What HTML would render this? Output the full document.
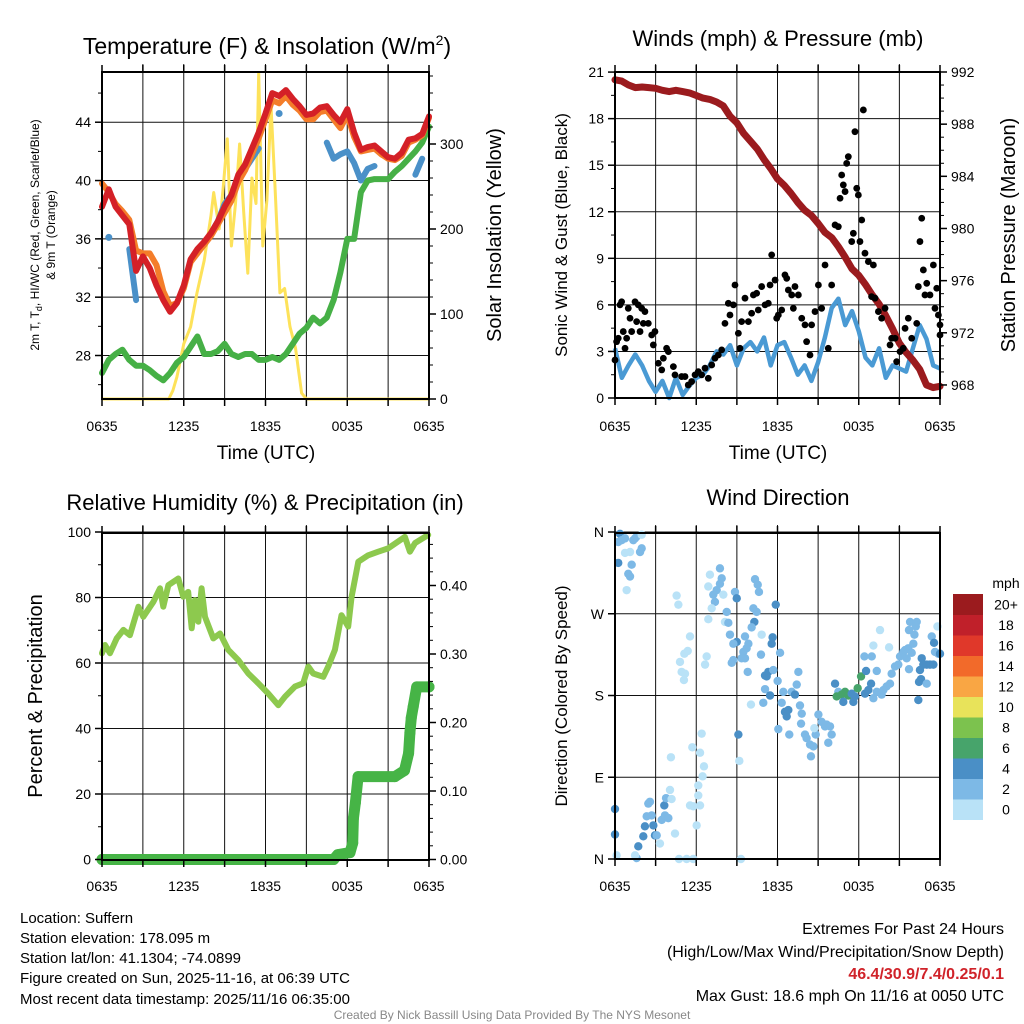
<!DOCTYPE html>
<html><head><meta charset="utf-8">
<style>
html,body{margin:0;padding:0;background:#fff;}
svg{display:block;font-family:"Liberation Sans",Arial,sans-serif;}
</style></head>
<body>
<svg id="fig" width="1024" height="1024" viewBox="0 0 1024 1024" xmlns="http://www.w3.org/2000/svg">
<rect width="1024" height="1024" fill="#fff"/>
<g id="layer"></g>
<text x="267" y="54" font-size="23" text-anchor="middle">Temperature (F) &amp; Insolation (W/m<tspan font-size="14" dy="-9">2</tspan><tspan dy="9">)</tspan></text>
<text x="778" y="46" font-size="22" text-anchor="middle">Winds (mph) &amp; Pressure (mb)</text>
<text x="265" y="510" font-size="22" text-anchor="middle">Relative Humidity (%) &amp; Precipitation (in)</text>
<text x="778" y="505" font-size="22" text-anchor="middle">Wind Direction</text>
<text transform="translate(39,235) rotate(-90)" font-size="12" text-anchor="middle">2m T, T<tspan font-size="9" dy="3">d</tspan><tspan dy="-3">, HI/WC (Red, Green, Scarlet/Blue)</tspan></text>
<text transform="translate(55,235) rotate(-90)" font-size="12" text-anchor="middle">&amp; 9m T (Orange)</text>
<text transform="translate(501,235) rotate(-90)" font-size="20" text-anchor="middle">Solar Insolation (Yellow)</text>
<text transform="translate(567,235) rotate(-90)" font-size="17" text-anchor="middle">Sonic Wind &amp; Gust (Blue, Black)</text>
<text transform="translate(1015,235) rotate(-90)" font-size="20" text-anchor="middle">Station Pressure (Maroon)</text>
<text transform="translate(42,696) rotate(-90)" font-size="20" text-anchor="middle">Percent &amp; Precipitation</text>
<text transform="translate(567,696) rotate(-90)" font-size="17" text-anchor="middle">Direction (Colored By Speed)</text>
<text x="266" y="459" font-size="19" text-anchor="middle">Time (UTC)</text>
<text x="778" y="459" font-size="19" text-anchor="middle">Time (UTC)</text>
<g font-size="15">
<text x="20" y="923">Location: Suffern</text>
<text x="20" y="943">Station elevation: 178.095 m</text>
<text x="20" y="963">Station lat/lon: 41.1304; -74.0899</text>
<text x="20" y="983">Figure created on Sun, 2025-11-16, at 06:39 UTC</text>
<text x="20" y="1004">Most recent data timestamp: 2025/11/16 06:35:00</text>
</g>
<g font-size="16" text-anchor="end">
<text x="1004" y="934">Extremes For Past 24 Hours</text>
<text x="1004" y="957">(High/Low/Max Wind/Precipitation/Snow Depth)</text>
<text x="1004" y="979" fill="#d0232a" font-weight="bold">46.4/30.9/7.4/0.25/0.1</text>
<text x="1004" y="1001">Max Gust: 18.6 mph On 11/16 at 0050 UTC</text>
</g>
<text x="512" y="1019" font-size="12" fill="#888" text-anchor="middle">Created By Nick Bassill Using Data Provided By The NYS Mesonet</text>
<text x="1006" y="588" font-size="14" text-anchor="middle">mph</text>
</svg>
<script>
// ---------- DATA ----------
const halfHours = [0,0.5,1,1.5,2,2.5,3,3.5,4,4.5,5,5.5,6,6.5,7,7.5,8,8.5,9,9.5,10,10.5,11,11.5,12,12.5,13,13.5,14,14.5,15,15.5,16,16.5,17,17.5,18,18.5,19,19.5,20,20.5,21,21.5,22,22.5,23,23.5,24];
const xTickLabels = ["0635","1235","1835","0035","0635"];
const temp2m = [38.2,39.4,38.2,37.6,37.0,33.8,34.8,34.0,32.8,31.8,31.0,31.6,32.8,34.6,35.3,35.8,36.4,37.2,38.2,39.0,40.4,41.1,42.2,43.3,44.6,46.0,45.8,46.2,45.6,45.1,44.5,44.6,45.0,45.1,44.5,44.0,44.9,43.3,42.1,42.3,42.4,42.0,41.6,41.5,41.9,42.8,42.9,43.2,44.4];
const temp9m = [39.8,39.2,38.4,37.9,37.3,35.2,35.0,35.0,34.2,32.4,31.4,31.6,32.6,34.4,35.0,35.6,36.2,37.0,37.8,38.6,39.9,40.7,41.8,42.9,44.2,45.5,45.3,45.8,45.2,44.8,44.2,44.2,44.7,44.8,44.2,43.6,44.5,43.0,42.0,42.1,42.2,41.8,41.5,41.4,41.7,42.6,42.8,43.1,44.3];
const heatIndexWindChill = [null,36.1,null,null,35.3,31.8,null,null,null,null,null,null,null,null,35.2,35.6,36.4,37.2,38.4,39.0,40.2,40.8,41.5,42.2,null,null,44.6,null,null,null,null,null,null,42.6,41.5,41.8,42.0,41.2,40.0,40.8,41.0,null,null,null,null,null,40.4,41.5,null];
const dewPoint = [26.8,27.7,28.1,28.4,27.7,27.3,27.3,27.0,26.6,26.3,26.8,27.5,27.9,28.6,29.3,28.1,28.1,28.3,28.8,28.1,27.9,28.1,28.1,27.7,27.7,27.9,27.7,28.1,28.8,29.5,29.9,30.6,30.2,30.6,31.8,33.7,36.0,36.0,39.2,40.0,40.1,40.1,40.1,40.6,41.0,41.5,42.0,42.6,43.7];
const insolHours = [0,4.9,5.2,5.5,6.0,6.5,6.97,7.5,8.0,8.2,8.6,8.9,9.2,9.5,9.8,10.1,10.4,10.7,11.0,11.3,11.5,11.8,12.1,12.4,12.7,13.06,13.4,13.8,14.2,14.65,15.0,24];
const insolation = [0,0,10,26,65,85,125,163,216,243,200,250,306,180,230,300,220,148,260,230,383,180,234,345,250,125,130,85,60,7,0,0];
const tempTicks = [28,32,36,40,44];
const insolTicks = [0,100,200,300];

const windSpeed = [3.2,1.3,2.1,2.8,2.1,1.1,0.4,1.1,0.0,1.3,0.2,0.8,1.3,1.5,2.1,3.0,2.8,3.4,2.1,3.2,3.6,3.0,3.9,2.1,3.4,3.6,2.6,1.5,2.1,1.1,2.3,3.9,5.8,6.4,4.7,5.6,4.3,2.6,2.1,3.2,1.3,2.1,1.9,1.7,3.2,4.7,3.8,2.1,1.9];
const pressure = [991.4,991.3,991.0,990.8,990.85,990.8,990.75,990.6,990.5,990.6,990.5,990.4,990.2,990.0,989.9,989.7,989.4,988.6,988.1,987.3,986.7,986.1,985.3,984.6,983.8,983.3,982.7,982.0,981.4,981.0,980.4,979.7,979.3,978.6,977.8,976.9,976.4,975.7,974.9,974.2,973.3,972.3,971.2,970.5,969.9,969.2,968.0,967.8,967.9];
const gustHours = [0.0,0.12,0.24,0.37,0.49,0.61,0.74,0.86,0.98,1.11,1.23,1.48,1.6,1.72,1.85,1.97,2.09,2.21,2.46,2.71,2.83,2.95,3.2,3.45,3.57,3.81,3.94,4.31,4.43,4.92,5.17,5.41,5.66,5.91,6.15,6.4,6.65,6.89,7.14,7.38,7.63,7.88,8.12,8.37,8.49,8.74,8.86,9.11,9.23,9.35,9.6,9.85,10.09,10.22,10.46,10.58,10.83,11.08,11.32,11.45,11.57,11.82,11.94,12.06,12.31,12.55,12.68,12.8,13.05,13.29,13.54,13.17,13.79,14.03,14.15,14.4,14.52,14.77,15.02,15.26,15.51,15.75,16.0,16.25,16.49,16.62,16.74,16.86,16.99,17.11,17.23,17.48,17.6,17.72,17.85,17.97,18.09,18.22,18.34,18.46,18.71,18.95,19.08,19.2,19.45,19.69,19.94,20.31,20.43,20.68,20.8,21.05,21.29,21.42,21.66,21.91,22.28,22.4,22.52,22.65,22.77,22.89,23.02,23.26,23.51,23.76,23.63,23.88,24.0,24.0];
const gustSpeed = [2.45,3.63,3.85,6.0,6.2,4.28,3.2,3.85,5.78,5.14,4.28,6.2,4.92,6.0,4.28,5.78,4.81,5.57,4.81,4.06,3.42,4.28,2.24,1.81,2.56,3.2,2.99,2.02,1.49,1.38,1.38,0.84,1.06,1.49,1.7,1.49,1.92,1.27,2.13,2.56,2.77,3.1,4.81,6.1,5.35,6.0,7.28,4.17,3.2,4.92,6.43,4.92,5.46,6.64,6.75,5.67,7.18,6.0,6.1,7.28,9.22,7.6,5.14,5.35,5.67,7.93,7.71,6.96,6.64,7.18,6.64,5.78,5.14,4.71,3.63,2.77,4.71,5.57,7.28,5.78,8.57,3.2,7.28,11.15,11.04,12.87,14.37,13.73,13.3,15.12,15.55,10.08,10.61,17.16,13.51,13.08,10.08,11.47,18.56,9.33,8.79,6.53,8.57,6.43,5.57,5.14,5.78,3.42,3.85,3.85,2.34,2.99,3.2,4.49,5.14,3.85,4.81,7.18,10.08,11.58,8.25,6.64,7.39,6.64,8.57,7.07,5.78,5.35,4.71,4.06];
const windTicks = [0,3,6,9,12,15,18,21];
const pressureTicks = [968,972,976,980,984,988,992];

const rhHours = [0,0.22,0.59,1.08,1.57,2.05,2.67,3.03,3.77,4.26,4.5,4.87,5.6,5.97,6.33,6.58,6.82,7.07,7.31,7.56,8.17,8.66,9.27,10.0,10.74,11.47,12.2,12.94,13.43,14.16,14.77,15.14,15.5,16.24,16.6,17.09,17.58,18.07,18.32,18.81,19.54,20.27,21.0,22.23,22.6,22.97,23.94];
const relHumidity = [63.0,65.5,63.0,67.5,70.1,68.5,77.2,74.1,78.7,82.8,77.2,83.8,85.8,80.2,81.7,70.6,79.2,72.6,82.8,74.1,67.5,69.0,64.0,60.9,56.8,53.8,50.7,47.1,49.7,52.8,53.8,58.9,56.8,55.8,58.9,64.0,74.6,71.1,80.2,90.9,92.9,94.0,95.0,98.5,94.0,96.6,99.1];
const precipHours = [0,17.0,17.3,18.2,18.4,18.45,18.6,18.8,21.5,22.2,22.5,22.6,22.7,22.84,23.1,24];
const precipIn = [0,0,0.007,0.01,0.024,0.06,0.083,0.121,0.121,0.13,0.155,0.185,0.207,0.223,0.252,0.252];
const rhTicks = [0,20,40,60,80,100];
const precipTicks = ["0.00","0.10","0.20","0.30","0.40"];

const dirHours = [0.37,0.49,0.24,0.74,1.48,1.6,1.97,1.35,1.97,1.85,1.11,0.74,0.24,1.23,0.98,1.11,0.86,4.55,4.68,7.01,6.89,7.75,7.88,7.75,7.51,7.26,8.0,7.38,7.14,6.89,8.25,8.12,8.37,8.86,8.99,10.34,10.54,10.63,10.22,10.46,11.87,10.29,10.09,10.83,8.49,9.6,8.99,8.74,9.85,9.72,9.48,9.35,9.6,10.78,11.64,11.57,12.19,5.54,5.37,5.12,4.8,4.92,5.17,5.09,6.77,6.65,8.74,8.62,9.8,11.32,11.2,11.08,11.69,12.01,11.08,11.45,12.43,12.31,12.55,12.68,12.8,13.05,13.42,13.29,13.54,13.66,13.79,13.74,10.95,10.04,12.06,12.87,14.03,14.15,14.4,14.65,14.47,14.82,15.02,15.26,15.51,15.63,15.88,16.0,15.75,14.72,16.25,16.49,16.37,16.74,16.99,17.23,17.48,17.72,17.6,16.86,17.92,18.17,18.46,18.71,18.91,18.54,18.42,18.96,19.33,19.08,19.33,19.69,19.82,20.06,20.31,20.43,20.68,20.92,21.05,21.29,21.42,21.66,21.54,21.71,21.91,22.03,22.11,21.71,21.79,22.28,22.21,19.08,19.57,20.24,23.39,23.56,23.63,23.88,24.0,23.81,22.65,22.77,23.02,23.26,23.51,22.52,22.6,22.45,23.02,22.4,0.0,0.0,0.12,1.6,1.48,1.72,2.09,2.21,2.34,2.46,2.58,2.71,2.83,2.95,3.08,3.32,3.45,3.69,3.94,3.64,3.77,4.18,4.06,4.13,4.43,5.54,5.78,6.28,6.03,6.15,6.15,6.47,6.57,6.28,6.4,5.71,4.73,5.29,5.78,9.11,9.18,9.3];
const dirDegrees = [358,351,349,353,353,355,357,351,342,338,338,337,326,324,314,311,296,290,280,313,300,320,309,303,296,291,291,283,276,264,272,261,260,294,287,308,302,294,276,272,280,261,255,247,247,245,239,237,237,232,228,221,221,225,244,237,227,245,229,226,217,206,204,197,223,214,219,216,206,206,201,202,208,196,187,180,184,172,162,157,164,184,192,181,206,169,160,149,172,170,143,137,137,133,126,124,113,137,159,151,146,148,146,137,128,144,193,184,179,181,184,180,182,179,173,173,188,201,182,186,193,207,223,223,207,177,184,181,186,190,193,204,212,214,223,228,230,232,221,209,227,237,247,252,261,261,256,235,252,233,245,238,228,226,226,256,221,214,214,214,214,208,198,195,193,175,55,27,4,1,4,14,25,36,47,61,63,48,37,26,26,17,43,48,45,59,67,66,76,112,28,59,58,59,37,70,81,91,102,117,138,123,0,0,0,137,108,0];
const dirSpeedClass = [
2,1,1,1,1,1,0,1,1,1,
0,0,2,1,1,1,0,0,0,0,
0,1,1,1,1,1,0,1,0,0,
1,0,1,1,2,1,1,1,1,1,
2,2,1,0,1,1,2,1,1,1,
1,1,1,1,2,2,1,0,0,0,
0,0,0,0,0,0,1,1,1,2,
2,2,1,1,1,2,1,1,2,2,
2,1,1,2,1,1,1,1,1,0,
1,1,1,1,1,1,1,1,1,1,
1,1,1,1,1,0,2,1,3,3,
3,3,2,2,2,2,3,3,2,2,
2,2,1,1,1,1,1,1,1,1,
1,1,1,1,1,1,1,1,1,1,
1,1,1,1,1,1,1,0,0,0,
1,2,1,1,2,0,2,2,2,2,
2,2,2,2,1,2,2,2,0,1,
0,2,2,2,1,1,1,1,2,2,
1,0,1,1,1,2,1,0,0,0,
0,0,0,0,0,0,0,0,0,0,
0,0,0,0,0,2,0,0];
const dirTickLabels = ["N","E","S","W","N"];
const colorbarLabels = ["0","2","4","6","8","10","12","14","16","18","20+"];
const colorbarColors = ["#b9e2f7","#7db9e6","#4a8fc6","#47a46b","#7cc24e","#e8e35a","#f9a644","#f26a2a","#e0382a","#c0202a","#9b1b1e"];

// ---------- HELPERS ----------
const NS = "http://www.w3.org/2000/svg";
const layer = document.getElementById("layer");
function mk(tag, attrs, parent){
  const e = document.createElementNS(NS, tag);
  for (const k in attrs) e.setAttribute(k, attrs[k]);
  (parent||layer).appendChild(e);
  return e;
}
function group(name){
  const g = mk("g", {});
  
  
  return g;
}
function linePath(xs, ys, xf, yf){
  let d = "", pen = false;
  for (let i=0;i<xs.length;i++){
    if (ys[i]===null){ pen=false; continue; }
    d += (pen?"L":"M") + xf(xs[i]).toFixed(1) + "," + yf(ys[i]).toFixed(1);
    pen = true;
  }
  return d;
}
function isolated(xs, ys){
  const r=[];
  for (let i=0;i<ys.length;i++){
    if (ys[i]===null) continue;
    const p = i>0?ys[i-1]:null, n = i<ys.length-1?ys[i+1]:null;
    if (p===null && n===null) r.push(i);
  }
  return r;
}
function panelFrame(name, x0, x1, y0, y1, hLines, xf){
  const g = group(name+"-grid");
  for (let h=3; h<24; h+=3){
    const x = xf(h);
    mk("line",{x1:x,y1:y0-8,x2:x,y2:y1,stroke:"#111","stroke-width":1},g);
  }
  hLines.forEach(y=>mk("line",{x1:x0,y1:y,x2:x1,y2:y,stroke:"#111","stroke-width":1},g));
  return g;
}
function panelBorder(name, x0, x1, y0, y1, xf, showLabels, labelY){
  const g = group(name+"-frame");
  mk("rect",{x:x0,y:y0,width:x1-x0,height:y1-y0,fill:"none",stroke:"#000","stroke-width":2},g);
  for (let h=0; h<=24; h+=3){
    const x = xf(h);
    mk("line",{x1:x,y1:y1,x2:x,y2:y1+7,stroke:"#000","stroke-width":1.5},g);
    mk("line",{x1:x,y1:y0,x2:x,y2:y0-7,stroke:"#000","stroke-width":1.5},g);
  }
  const lg = group(name+"-x-tick-labels");
  xTickLabels.forEach((lab,i)=>{
    const t = mk("text",{x:xf(i*6),y:labelY,"font-size":14,"text-anchor":"middle"},lg);
    
    
    t.textContent = lab;
  });
}
function yTicks(name, vals, labels, yf, x, side, minorVals){
  const g = group(name);
  const dir = side==="left"?-1:1;
  (minorVals||[]).forEach(v=>mk("line",{x1:x,y1:yf(v),x2:x+dir*4,y2:yf(v),stroke:"#000","stroke-width":1},g));
  vals.forEach((v,i)=>{
    const y = yf(v);
    mk("line",{x1:x,y1:y,x2:x+dir*7,y2:y,stroke:"#000","stroke-width":1.5},g);
    const t = mk("text",{x:x+dir*11,y:y+5,"font-size":14,"text-anchor":side==="left"?"end":"start"},g);
    
    
    t.textContent = labels[i];
  });
}
function range(a,b,s){const r=[];for(let v=a;v<=b+1e-9;v+=s)r.push(+v.toFixed(4));return r;}

// ---------- PANEL 1: temperature ----------
{
  const X0=102,X1=429,Y0=72,Y1=399;
  const xT = h => X0 + h/24*(X1-X0);
  const yT = f => 355.5 - (f-28)*14.58;
  const yS = w => 399 - w*0.85;
  panelFrame("temp-panel",X0,X1,Y0,Y1,tempTicks.map(yT),xT);
  const sg = group("temp-series");
  const ins = mk("path",{d:linePath(insolHours,insolation,xT,yS),fill:"none",stroke:"#fde25a","stroke-width":3,"stroke-linejoin":"round"},sg);
  
  
  const dp = mk("path",{d:linePath(halfHours,dewPoint,xT,yT),fill:"none",stroke:"#46b046","stroke-width":6,"stroke-linejoin":"round","stroke-linecap":"round"},sg);
  
  
  const hi = mk("path",{d:linePath(halfHours,heatIndexWindChill,xT,yT),fill:"none",stroke:"#4a90c8","stroke-width":6,"stroke-linejoin":"round","stroke-linecap":"round"},sg);
  
  
  isolated(halfHours,heatIndexWindChill).forEach(i=>{
    const c = mk("circle",{cx:xT(halfHours[i]),cy:yT(heatIndexWindChill[i]),r:3.5,fill:"#4a90c8"},sg);
    
    
  });
  const t9 = mk("path",{d:linePath(halfHours,temp9m,xT,yT),fill:"none",stroke:"#f47d2a","stroke-width":6,"stroke-linejoin":"round","stroke-linecap":"round"},sg);
  
  
  const t2 = mk("path",{d:linePath(halfHours,temp2m,xT,yT),fill:"none",stroke:"#d42027","stroke-width":6,"stroke-linejoin":"round","stroke-linecap":"round"},sg);
  
  
  panelBorder("temp-panel",X0,X1,Y0,Y1,xT,true,431);
  yTicks("temp-y-axis",tempTicks,tempTicks.map(String),yT,X0,"left",range(26,46,2));
  yTicks("insolation-y-axis",insolTicks,insolTicks.map(String),yS,X1,"right",range(20,380,20));
}

// ---------- PANEL 2: wind & pressure ----------
{
  const X0=615,X1=940,Y0=72,Y1=398;
  const xW = h => X0 + h/24*(X1-X0);
  const yW = m => 398 - m*15.52;
  const yP = p => 72 + (992-p)*13.04;
  panelFrame("wind-panel",X0,X1,Y0,Y1,windTicks.map(yW),xW);
  const sg = group("wind-series");
  const ws = mk("path",{d:linePath(halfHours,windSpeed,xW,yW),fill:"none",stroke:"#4a9ad4","stroke-width":4.5,"stroke-linejoin":"round"},sg);
  
  
  const pr = mk("path",{d:linePath(halfHours,pressure,xW,yP),fill:"none",stroke:"#9b1b1e","stroke-width":7,"stroke-linejoin":"round","stroke-linecap":"round"},sg);
  
  
  gustHours.forEach((h,i)=>{
    const c = mk("circle",{cx:xW(h),cy:yW(gustSpeed[i]),r:3.4,fill:"#000"},sg);
    
    
  });
  panelBorder("wind-panel",X0,X1,Y0,Y1,xW,true,431);
  yTicks("wind-y-axis",windTicks,windTicks.map(String),yW,X0,"left",range(1.5,19.5,3));
  yTicks("pressure-y-axis",pressureTicks,pressureTicks.map(String),yP,X1,"right",range(968,992,1));
}

// ---------- PANEL 3: RH & precip ----------
{
  const X0=102,X1=429,Y0=533,Y1=860;
  const xR = h => X0 + h/24*(X1-X0);
  const yR = r => 859.5 - r*3.275;
  const yPr = p => 859.5 - p*685;
  panelFrame("rh-panel",X0,X1,Y0,Y1,rhTicks.map(yR),xR);
  const sg = group("rh-series");
  const rh = mk("path",{d:linePath(rhHours,relHumidity,xR,yR),fill:"none",stroke:"#8dc94e","stroke-width":6,"stroke-linejoin":"round","stroke-linecap":"round"},sg);
  
  
  const pc = mk("path",{d:linePath(precipHours,precipIn,xR,yPr),fill:"none",stroke:"#46b446","stroke-width":11,"stroke-linejoin":"round","stroke-linecap":"round"},sg);
  
  
  precipHours.forEach((h,i)=>{
    const c = mk("circle",{cx:xR(h),cy:yPr(precipIn[i]),r:5.5,fill:"#46b446"},sg);
    
    
  });
  panelBorder("rh-panel",X0,X1,Y0,Y1,xR,true,891);
  yTicks("rh-y-axis",rhTicks,rhTicks.map(String),yR,X0,"left",range(10,90,20));
  yTicks("precip-y-axis",precipTicks.map(Number),precipTicks,yPr,X1,"right",range(0.02,0.46,0.02));
}

// ---------- PANEL 4: wind direction ----------
{
  const X0=615,X1=940,Y0=533,Y1=859;
  const xD = h => X0 + h/24*(X1-X0);
  const yD = d => 859 - d*0.9083;
  const dirTickVals = [0,90,180,270,360];
  panelFrame("direction-panel",X0,X1,Y0,Y1,dirTickVals.map(yD),xD);
  const sg = group("direction-series");
  dirHours.forEach((h,i)=>{
    const cls = dirSpeedClass[i]===undefined ? 0 : dirSpeedClass[i];
    const c = mk("circle",{cx:xD(h),cy:yD(dirDegrees[i]),r:4.2,fill:colorbarColors[cls]},sg);
    
    
  });
  panelBorder("direction-panel",X0,X1,Y0,Y1,xD,true,891);
  yTicks("direction-y-axis",dirTickVals,dirTickLabels,yD,X0,"left",[]);
  const cb = group("speed-colorbar");
  const binH = 20.5, top = 594;
  colorbarColors.forEach((col,i)=>{
    const k = colorbarColors.length-1-i;
    const r = mk("rect",{x:953,y:top+k*binH,width:30,height:binH+0.5,fill:col},cb);
    
    
    const t = mk("text",{x:1006,y:top+k*binH+binH/2+5,"font-size":14,"text-anchor":"middle"},cb);
    
    
    t.textContent = colorbarLabels[i];
  });
}
</script>
</body></html>
